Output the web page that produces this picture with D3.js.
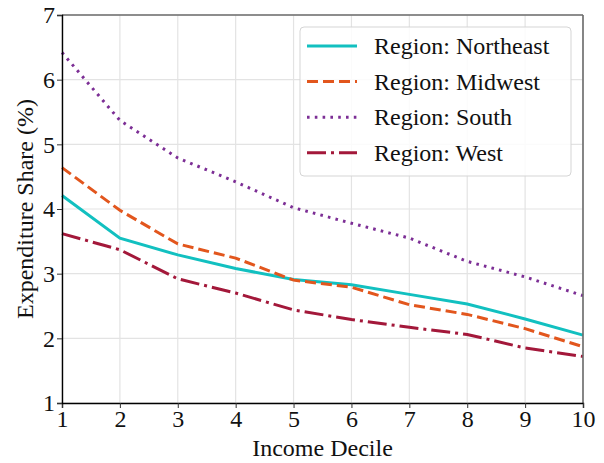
<!DOCTYPE html>
<html>
<head>
<meta charset="utf-8">
<script src="https://cdn.jsdelivr.net/npm/d3@7"></script>
<style>
body{margin:0;background:#fff;}
svg text{font-family:"Liberation Serif","DejaVu Serif",serif;fill:#111;}
</style>
</head>
<body>
<svg width="604" height="463"></svg>
<script>
var deciles = [1,2,3,4,5,6,7,8,9,10];
var northeast = [4.21,3.55,3.29,3.08,2.91,2.83,2.68,2.53,2.30,2.05];
var midwest   = [4.64,3.98,3.46,3.24,2.90,2.79,2.52,2.37,2.15,1.87];
var south     = [6.42,5.37,4.79,4.42,4.02,3.78,3.55,3.19,2.95,2.66];
var west      = [3.62,3.37,2.92,2.70,2.44,2.29,2.17,2.06,1.85,1.72];
var seriesNames = ["Region: Northeast","Region: Midwest","Region: South","Region: West"];
var yTicks = [1,2,3,4,5,6,7];

var svg = d3.select("svg");
var pLeft = 62, pRight = 583, pTop = 15, pBottom = 403;

var x = d3.scaleLinear().domain([1,10]).range([pLeft,pRight]);
var y = d3.scaleLinear().domain([1,7]).range([pBottom,pTop]);

var styles = [
  {color:"#12c0c0", dash:null},
  {color:"#e2561d", dash:"11,5"},
  {color:"#7c2e95", dash:"2.6,5.2"},
  {color:"#a3183a", dash:"19,5,3,5"}
];
var allSeries = [northeast, midwest, south, west];

// grid
var grid = svg.append("g");
grid.selectAll("line.gx").data(deciles).enter().append("line")
    .attr("x1",function(d){return x(d);}).attr("x2",function(d){return x(d);})
    .attr("y1",pTop).attr("y2",pBottom)
    .attr("stroke","#e3e3e3").attr("stroke-width",1.2);
grid.selectAll("line.gy").data(yTicks).enter().append("line")
    .attr("y1",function(d){return y(d);}).attr("y2",function(d){return y(d);})
    .attr("x1",pLeft).attr("x2",pRight)
    .attr("stroke","#e3e3e3").attr("stroke-width",1.2);

// lines
var line = d3.line().x(function(d,i){return x(deciles[i]);}).y(function(d){return y(d);});
allSeries.forEach(function(s,i){
    svg.append("path").datum(s)
        .attr("d",line)
        .attr("fill","none")
        .attr("stroke",styles[i].color)
        .attr("stroke-width",3)
        .attr("stroke-dasharray",styles[i].dash);
});

// spines
svg.append("line").attr("x1",pLeft).attr("x2",pRight).attr("y1",pTop).attr("y2",pTop)
    .attr("stroke","#6b6b6b").attr("stroke-width",1.6);
svg.append("line").attr("x1",pRight).attr("x2",pRight).attr("y1",pTop).attr("y2",pBottom)
    .attr("stroke","#6b6b6b").attr("stroke-width",1.6);

// axes
var xAxis = svg.append("g").attr("transform","translate(0,"+pBottom+")")
    .call(d3.axisBottom(x).tickValues(deciles).tickSize(5).tickPadding(2).tickFormat(d3.format("d")));
var yAxis = svg.append("g").attr("transform","translate("+pLeft+",0)")
    .call(d3.axisLeft(y).tickValues(yTicks).tickSize(5).tickPadding(2).tickFormat(d3.format("d")));
[xAxis,yAxis].forEach(function(a){
    a.select(".domain").attr("stroke","#000").attr("stroke-width",1.4);
    a.selectAll(".tick line").attr("stroke","#333").attr("stroke-width",1);
    a.selectAll(".tick text").attr("font-size",24).attr("fill","#111");
});

// axis labels
svg.append("text").attr("x",(pLeft+pRight)/2).attr("y",456)
    .attr("text-anchor","middle").attr("font-size",24).text("Income Decile");
svg.append("text").attr("transform","translate(33,"+((pTop+pBottom)/2)+") rotate(-90)")
    .attr("text-anchor","middle").attr("font-size",24).text("Expenditure Share (%)");

// legend
var lg = svg.append("g");
lg.append("rect").attr("x",300).attr("y",27).attr("width",271).attr("height",149)
    .attr("rx",4).attr("fill","#fff").attr("fill-opacity",0.85)
    .attr("stroke","#d5d5d5").attr("stroke-width",1);
seriesNames.forEach(function(name,i){
    var ly = 46 + i*35.6;
    lg.append("line").attr("x1",307).attr("x2",357).attr("y1",ly).attr("y2",ly)
        .attr("stroke",styles[i].color).attr("stroke-width",3)
        .attr("stroke-dasharray",styles[i].dash);
    lg.append("text").attr("x",374).attr("y",ly+8).attr("font-size",24).text(name);
});
</script>
</body>
</html>
